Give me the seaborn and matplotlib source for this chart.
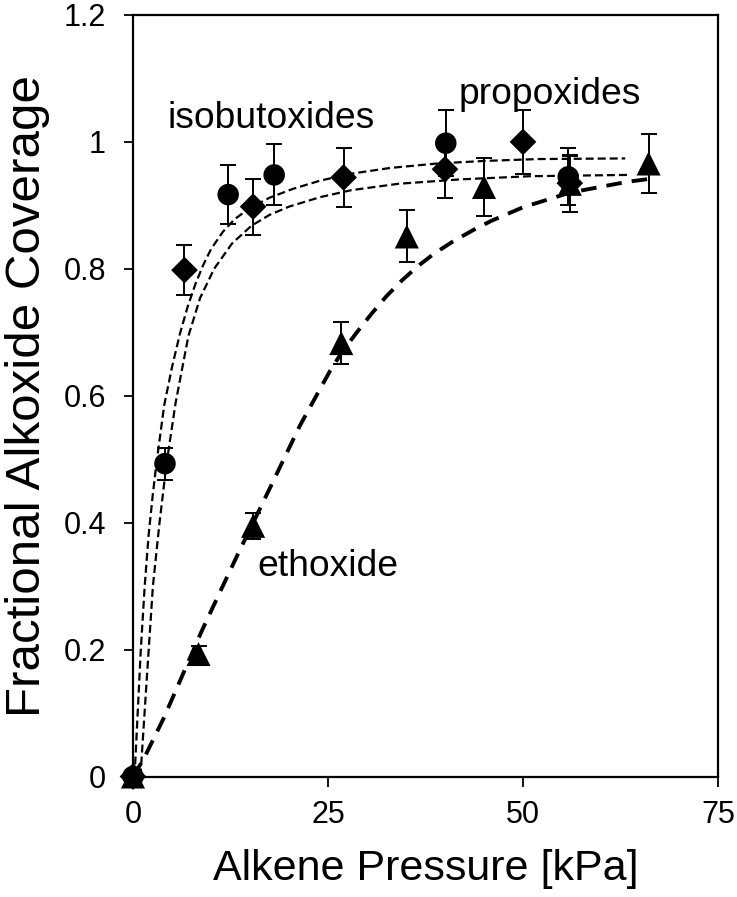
import matplotlib
matplotlib.use("Agg")
import matplotlib.pyplot as plt
import seaborn as sns

# ---------------- data ----------------
# propoxides (circles)
prop_x = [0, 4.1, 12.2, 18.1, 40.1, 55.8]
prop_y = [0, 0.493, 0.917, 0.948, 0.998, 0.945]
prop_err = [0, 0.025, 0.046, 0.048, 0.052, 0.045]

# isobutoxides (diamonds)
iso_x = [0, 6.6, 15.4, 27.0, 40.0, 50.0, 56.0]
iso_y = [0, 0.798, 0.898, 0.944, 0.957, 1.0, 0.935]
iso_err = [0, 0.039, 0.044, 0.046, 0.045, 0.05, 0.045]

# ethoxide (triangles)
eth_x = [0, 8.4, 15.4, 26.7, 35.1, 45.0, 56.0, 66.1]
eth_y = [0, 0.193, 0.395, 0.683, 0.851, 0.929, 0.934, 0.966]
eth_err = [0, 0.013, 0.02, 0.033, 0.041, 0.046, 0.044, 0.047]

# fitted curves, points
fit_upper_x = [0.2, 0.6, 1.0, 1.5, 2.0, 2.5, 3.0, 4.0, 5.0, 6.0, 7.0, 8.0,
               9.0, 10.0, 11.5, 13.0, 15.0, 17.5, 20.5, 24.0, 28.0, 33.0,
               39.0, 45.0, 52.0, 63.1]
fit_upper_y = [0.0, 0.10, 0.20, 0.30, 0.38, 0.44, 0.493, 0.585, 0.645, 0.697,
               0.74, 0.776, 0.806, 0.831, 0.858, 0.878, 0.896, 0.912, 0.926,
               0.939, 0.95, 0.959, 0.966, 0.970, 0.973, 0.974]
fit_lower_x = [0.95, 1.1, 1.75, 2.55, 3.4, 4.3, 5.45, 7.1, 8.6, 10.4, 12.7,
               15.2, 17.5, 20.0, 24.0, 28.0, 34.0, 42.0, 51.0, 63.5]
fit_lower_y = [0.0, 0.028, 0.151, 0.30, 0.40, 0.493, 0.588, 0.694, 0.754,
               0.80, 0.84, 0.868, 0.885, 0.898, 0.913, 0.924, 0.934, 0.941,
               0.946, 0.948]
fit_eth_x = [0, 1.3, 3.9, 5.4, 8.8, 11.2, 13.7, 15.4, 17.1, 21.4, 25.3, 26.75,
             28.7, 30.5, 32.5, 34.5, 36.5, 38.5, 41.0, 43.6, 46.0, 50.0, 56.0,
             63.3, 67.0]
fit_eth_y = [0, 0.026, 0.091, 0.133, 0.229, 0.292, 0.357, 0.40, 0.443, 0.553,
             0.64, 0.668, 0.700, 0.728, 0.757, 0.782, 0.804, 0.823, 0.843,
             0.861, 0.876, 0.897, 0.920, 0.937, 0.943]

x_ticks = [0, 25, 50, 75]
y_ticks = [0, 0.2, 0.4, 0.6, 0.8, 1.0, 1.2]
y_tick_labels = ["0", "0.2", "0.4", "0.6", "0.8", "1", "1.2"]

labels = ["isobutoxides", "propoxides", "ethoxide"]
label_x = [4.4, 41.8, 15.9]
label_y = [1.022, 1.060, 0.316]

x_label = "Alkene Pressure [kPa]"
y_label = "Fractional Alkoxide Coverage"

# ---------------- style ----------------
sns.set_style("ticks")
plt.rcParams['font.family'] = ['Liberation Sans', 'DejaVu Sans']

fig, ax = plt.subplots(figsize=(7.37, 8.97), dpi=100)
fig.subplots_adjust(left=133 / 737, right=718 / 737,
                    bottom=1 - 776.5 / 897, top=1 - 15 / 897)

# curves
sns.lineplot(x=fit_upper_x, y=fit_upper_y, ax=ax, color="black", sort=False,
             linewidth=1.6, linestyle=(0, (3.6, 1.8)), zorder=2)
sns.lineplot(x=fit_lower_x, y=fit_lower_y, ax=ax, color="black", sort=False,
             linewidth=1.6, linestyle=(0, (3.6, 1.8)), zorder=2)
sns.lineplot(x=fit_eth_x, y=fit_eth_y, ax=ax, color="black", sort=False,
             linewidth=2.8, linestyle=(0, (4.0, 2.6)), zorder=2)

# error bars
for xs, ys, es in [(prop_x, prop_y, prop_err), (iso_x, iso_y, iso_err),
                   (eth_x, eth_y, eth_err)]:
    ax.errorbar(xs, ys, yerr=es, fmt="none", ecolor="black", elinewidth=1.4,
                capsize=6, capthick=1.4, zorder=3)

# markers
sns.scatterplot(x=prop_x, y=prop_y, ax=ax, marker="o", s=240, color="black",
                edgecolor="none", linewidth=0, zorder=4, clip_on=False)
sns.scatterplot(x=iso_x, y=iso_y, ax=ax, marker="D", s=185, color="black",
                edgecolor="none", linewidth=0, zorder=4, clip_on=False)
sns.scatterplot(x=eth_x, y=eth_y, ax=ax, marker="^", s=300, color="black",
                edgecolor="none", linewidth=0, zorder=4, clip_on=False)

# annotations
for t, lx, ly in zip(labels, label_x, label_y):
    ax.text(lx, ly, t, fontsize=26.8, ha="left", va="baseline", color="black")

# axes
ax.set_xlim(0, 75)
ax.set_ylim(0, 1.2)
ax.set_xticks(x_ticks)
ax.set_xticklabels([str(v) for v in x_ticks])
ax.set_yticks(y_ticks)
ax.set_yticklabels(y_tick_labels)
for s in ax.spines.values():
    s.set_visible(True)
    s.set_color("black")
    s.set_linewidth(1.6)
ax.tick_params(axis="y", direction="out", length=6.5, width=1.3,
               labelsize=22, pad=13, colors="black")
ax.tick_params(axis="x", direction="out", length=7, width=1.3,
               labelsize=22, pad=10, colors="black")

ax.set_xlabel(x_label, fontsize=31, color="black")
ax.set_ylabel(y_label, fontsize=35.5, color="black")
ax.xaxis.set_label_coords(0.5, -0.095)
ax.yaxis.set_label_coords(-0.142, 0.5)

fig.savefig("out.png", dpi=100, facecolor="white")
